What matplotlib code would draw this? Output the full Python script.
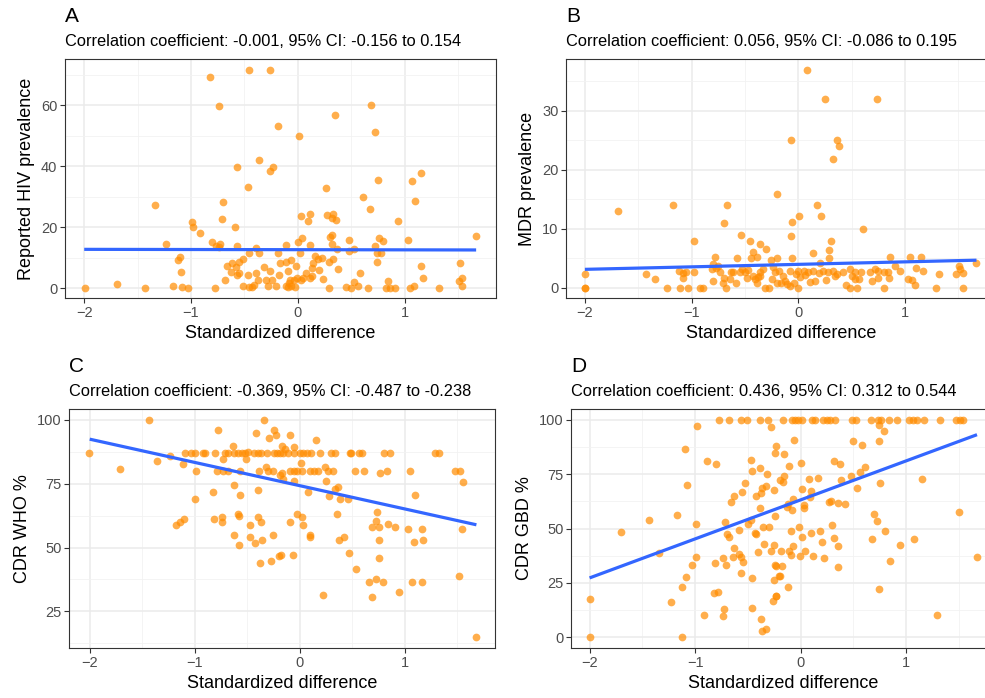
import numpy as np
import matplotlib
matplotlib.use("Agg")
import matplotlib.pyplot as plt
from matplotlib.ticker import MultipleLocator

plt.rcParams['font.family'] = ['Liberation Sans', 'DejaVu Sans']

# ---------------- data ----------------

# panel A: reported HIV prevalence
x_a = [-1.99, -1.69, -1.43, -1.34, -1.23, -1.17, -1.12, -1.10, -1.09, -1.08, -1.03, -0.99, -0.98,
       -0.92, -0.82, -0.80, -0.78, -0.77, -0.74, -0.74, -0.73, -0.71, -0.70, -0.68, -0.66, -0.63,
       -0.62, -0.59, -0.58, -0.57, -0.57, -0.57, -0.55, -0.55, -0.51, -0.51, -0.47, -0.47, -0.46,
       -0.46, -0.46, -0.43, -0.41, -0.39, -0.39, -0.37, -0.36, -0.36, -0.32, -0.30, -0.28, -0.26,
       -0.26, -0.26, -0.24, -0.23, -0.20, -0.19, -0.19, -0.17, -0.18,
       0.01, 0.35, 0.69, 0.72, 0.75, 0.26, 0.61, 0.68, 1.07, 1.15, 1.10, 0.94, 0.03, 0.11, 0.10,
       0.27, 0.33, 0.32, 0.36, 1.67, 0.32, 0.30, 0.32, 0.48, 0.48, 0.53, 0.37, 0.72, 0.76, 0.80,
       0.74, 0.78, 0.74, 1.03, -0.11, 0.00, 0.04, 0.11, 0.02, -0.11, -0.06, -0.02, 0.16, 0.19,
       0.23, 0.14, 0.20, 0.13, 0.29, 0.33, 0.38, 0.24, -0.09, -0.07, -0.08, -0.04, -0.01, 0.03,
       0.05, 0.08, 0.11, 0.13, -0.09, -0.06, -0.03, -0.11, 0.29, 0.45, 0.50, 0.53, 0.56, 0.58,
       0.66, 0.84, 0.83, 0.86, 0.91, 1.05, 1.09, 1.17, 1.15, 1.32, 1.52, 1.51, 1.54, 1.54]
y_a = [0, 1.5, 0, 27.3, 14.4, 0.7, 9.3, 10.4, 5.5, 0.3, 0, 21.7, 20.0,
       18.0, 69.3, 15.3, 0, 13.8, 59.7, 13.7, 14.4, 22.8, 28.4, 2.8, 7.2, 5.5,
       8.3, 20.1, 6.9, 14.0, 39.9, 4.4, 8.6, 5.2, 0.7, 9.6, 33.3, 4.4, 11.6,
       71.7, 0.3, 0.3, 1.0, 13.1, 5.2, 2.8, 11.6, 42.0, 7.0, 2.8, 0.9, 71.7,
       38.5, 5.6, 2.8, 39.8, 0.7, 11.6, 53.1, 8.3, 4.4,
       49.9, 56.7, 60.0, 51.4, 35.5, 33.0, 29.8, 26.0, 35.3, 37.7, 28.5, 22.2, 23.8, 24.4, 22.2,
       23.9, 24.4, 23.2, 22.3, 17.2, 17.4, 16.7, 14.5, 15.7, 12.1, 13.0, 12.9, 13.8, 16.5, 15.4,
       11.6, 11.6, 8.7, 15.8, 14.3, 15.1, 16.4, 14.3, 11.5, 8.5, 9.2, 7.5, 10.7, 9.6,
       9.9, 8.3, 5.9, 6.7, 8.7, 9.7, 6.4, 3.1, 5.6, 2.8, 1.7, 2.8, 3.4, 2.8,
       3.4, 5.2, 3.3, 3.9, 0.3, 0.7, 0.3, 0.9, 0, 0.3, 0, 2.0, 0.7, 5.0,
       0, 2.5, 0, 0, 0, 0, 0.9, 3.5, 7.5, 0, 8.2, 2.3, 3.4, 0.9]
fit_x_a = [-2.0, 1.67]
fit_y_a = [12.8, 12.6]

# panel B: MDR prevalence
x_b = [-2.0, -2.0, -2.0, -1.69, -1.43, -1.34, -1.17, -1.23, -1.11, -1.03, -0.92, -0.89, -0.98,
       -1.12, -1.08, -1.08, -1.05, -0.98, -0.80, -0.78, -0.80, -0.81, -0.77, -0.73, -0.75, -0.70,
       -0.67, -0.68, -0.71, -0.70, -0.64, -0.63, -0.58, -0.61, -0.57, -0.54, -0.50, -0.48, -0.45,
       -0.44, -0.42, -0.39, -0.36, -0.30, -0.26, -0.41, -0.38, -0.36, -0.33, -0.31, -0.27, -0.25,
       -0.22, -0.20, -0.20, -0.20, -0.55, -0.53, -0.47, -0.42, -0.36, -0.39,
       0.08, 0.25, 0.74, -0.07, 0.36, 0.38, 0.33, 0.18, 0.21, 0.01, -0.06, -0.07, 0.61, 0.31,
       0.29, 0.29, 0.14, 0.20, -0.06, 0.86, 0.91, 1.05, 1.15, 1.10, 1.17, 1.32, 1.29, 1.09,
       1.03, 1.07, 0.80, 0.85, 0.95, 0.84, 1.48, 1.51, 1.52, 1.54, 1.54, 1.67,
       -0.08, 0.00, 0.05, 0.09, 0.14, 0.19, 0.23, 0.28, 0.33, 0.36, 0.42, 0.48, 0.53, 0.57,
       0.59, 0.67, 0.72, 0.75, 0.80, -0.16, -0.11, -0.08, 0.00, 0.11, 0.16, 0.26, 0.34, 0.45,
       0.48, 0.55, 0.53, 0.69, 0.75, 0.50, -0.24, -0.18, -0.14, -0.12, -0.04, -0.02, 0.02, 0.06]
y_b = [2.3, 0, 0, 13.1, 2.4, 1.5, 14.1, 0, 0, 0, 0, 0, 8.0,
       2.9, 2.5, 1.7, 2.7, 2.7, 1.2, 5.2, 4.1, 3.2, 3.4, 2.7, 3.7, 11.0,
       14.1, 0, 0.9, 1.7, 1.5, 2.7, 0.9, 2.7, 5.0, 8.9, 2.7, 1.7, 8.0,
       5.1, 6.1, 5.3, 7.4, 6.6, 4.8, 1.5, 1.9, 2.7, 3.2, 0, 0, 1.5,
       2.7, 0.9, 15.9, 5.1, 2.7, 3.2, 3.0, 2.0, 2.0, 0.9,
       36.9, 32.0, 32.0, 25.0, 25.0, 24.0, 21.9, 14.1, 12.1, 12.1, 11.1, 8.8, 9.9, 7.9,
       6.4, 5.1, 6.0, 4.3, 5.1, 5.3, 3.8, 5.3, 5.3, 3.3, 2.9, 2.3, 0, 0.5,
       1.6, 1.3, 0, 1.7, 2.8, 2.7, 2.3, 3.8, 3.2, 2.6, 0, 4.3,
       2.9, 2.9, 2.9, 2.7, 2.9, 2.6, 2.9, 2.7, 2.9, 2.3, 2.7, 3.2, 2.7, 1.5,
       2.7, 2.7, 3.2, 2.9, 2.7, 0.9, 0.6, 0.3, 0, 1.0, 1.2, 1.3, 2.1, 0.5,
       0, 0, 1.5, 1.2, 1.7, 2.0, 3.5, 2.9, 2.0, 1.2, 0.8, 2.3, 1.8, 2.2]
fit_x_b = [-2.0, 1.67]
fit_y_b = [3.15, 4.7]

# panel C: CDR WHO %
x_c = [-2.01, -1.71, -1.44, -1.36, -1.24, -1.11, -1.09, -1.04, -1.00, -0.92, -0.90, -0.99, -1.00,
       -1.18, -1.14, -1.10, -0.83, -0.78, -0.82, -0.74, -0.74,
       -0.81, -0.71, -0.68, -0.63, -0.59, -0.55, -0.52, -0.49, -0.44, -0.40, -0.37, -0.31, -0.25,
       -0.22, -0.19, -0.73, -0.79, -0.73, -0.68, -0.57,
       -0.64, -0.63, -0.57, -0.59, -0.58, -0.63, -0.58, -0.47, -0.43, -0.47, -0.37, -0.40, -0.36,
       -0.38, -0.27, -0.26, -0.20, -0.51, -0.42, -0.34, -0.29, -0.25, -0.23, -0.40,
       -0.39, -0.32, -0.30, -0.26, -0.19,
       0.15, -0.09, -0.17, -0.14, -0.06,
       -0.16, -0.11, -0.06, 0.00, 0.03, 0.07, 0.11, 0.19, 0.30, 0.33, 0.48, 0.49, 0.56, 0.59,
       0.80, 0.86, 1.29, 1.32,
       -0.17, -0.09, -0.06, -0.03, 0.02, 0.10, 0.13, 0.17, 0.27, 0.32, 0.52, 0.61, 0.76, 0.83,
       1.05, 1.48, 1.52,
       0.01, 0.24, -0.16, -0.06, 0.25, 0.33, 0.36, 0.08, 0.28, 0.38, 0.46, 1.55, 1.10, 0.73,
       -0.03, 0.02, 0.03, -0.09, 0.35, 0.10, 0.10, 0.37, 0.42, 0.72, 0.69, 0.75, 0.84, 0.91,
       1.03, 1.16, 1.54, 0.75, 1.09, 1.17, -0.18, -0.07, 0.47, 0.53, 0.75, 0.66, 0.72, 0.79,
       0.69, 0.94, 1.07, 1.16, 1.51, 0.22, 1.68]
y_c = [87.0, 80.8, 100, 83.7, 86.0, 82.8, 87.0, 87.0, 87.0, 87.0, 87.0, 79.8, 68.8,
       58.9, 60.0, 61.1, 71.7, 95.8, 61.0, 61.9, 59.8,
       87.0, 87.0, 87.0, 87.0, 87.0, 87.0, 87.0, 87.5, 87.0, 87.0, 87.0, 87.0, 87.0,
       87.0, 87.0, 84.6, 79.8, 79.8, 79.8, 79.8,
       89.8, 74.6, 70.7, 63.1, 62.2, 54.9, 50.8, 58.9, 51.7, 54.0, 60.0, 61.9, 53.0,
       43.8, 44.7, 54.9, 46.8, 84.6, 95.0, 100, 92.8, 95.8, 94.1, 72.6,
       79.8, 81.7, 79.8, 79.8, 78.5,
       91.9, 94.0, 89.8, 88.7, 89.3,
       87.0, 87.0, 87.0, 87.0, 87.0, 87.0, 87.0, 87.0, 87.0, 87.0, 87.0, 87.0, 87.0, 87.0,
       87.0, 87.0, 87.0, 87.0,
       79.0, 79.8, 79.8, 79.8, 79.8, 79.8, 79.8, 79.8, 79.8, 79.8, 79.8, 79.8, 79.0, 79.8,
       79.8, 79.8, 79.8,
       83.0, 81.7, 76.9, 75.9, 75.9, 72.9, 73.7, 71.6, 70.0, 69.0, 69.0, 75.8, 70.7, 64.0,
       63.1, 61.9, 58.9, 60.0, 63.1, 55.0, 54.0, 53.0, 54.0, 60.4, 58.2, 58.2, 59.1, 58.2,
       57.2, 57.2, 57.2, 53.0, 52.0, 53.0, 46.9, 46.9, 47.8, 41.7, 45.9, 36.6, 37.7, 36.6,
       30.6, 32.6, 36.6, 36.6, 38.7, 31.6, 14.9]
fit_x_c = [-2.0, 1.68]
fit_y_c = [92.4, 58.9]

# panel D: CDR GBD %
x_d = [-2.0, -2.0, -1.70, -1.44, -1.34, -1.23, -1.17, -1.12, -1.12, -1.09, -1.10, -1.08, -1.03,
       -0.99, -0.99, -0.98, -0.92, -0.89, -0.82, -0.78, -0.80, -0.81,
       -0.77, -0.68, -0.57, -0.51, -0.39, -0.31,
       -0.28, -0.74, -0.71, -0.74, -0.73, -0.72, -0.70, -0.68, -0.66, -0.63, -0.56, -0.53, -0.64,
       -0.63, -0.58, -0.57, -0.55, -0.57, -0.58, -0.50, -0.47, -0.46, -0.46, -0.43, -0.42, -0.47,
       -0.46, -0.39, -0.32, -0.42, -0.38, -0.37, -0.33, -0.39, -0.36, -0.30, -0.35, -0.40, -0.28,
       -0.38, -0.37, -0.33, -0.26, -0.23, -0.25, -0.24, -0.25, -0.23, -0.21, -0.24, -0.23, -0.20,
       -0.17, -0.085, -0.054, -0.022, 0.009, 0.104, 0.136, 0.215, 0.246, 0.278, 0.325, 0.483,
       0.524, 0.662, 0.735, 0.760, 0.836, 0.909, 1.029, 1.066, 1.098, 1.167, 1.319, 1.470, 1.508,
       1.539,
       0.74, 0.79, 0.74, -0.06, 0.50, 0.58, -0.16, 0.00, -0.11, 0.32, 0.37, 0.61, 0.56, 0.48,
       0.38, 0.53, 0.75, 1.15, 0.08, 0.16, -0.16, -0.17, 0.01, 0.10, 0.09, 0.27, 0.35, 0.42,
       0.29, -0.07, -0.12, -0.08, 0.03, 0.03, -0.13, 1.50, 0.69, 0.72, 0.80, 0.68, 0.94, 1.07,
       0.85, 0.74, 1.29, 1.67, 0.30, 0.32, 0.35, 0.20, 0.18, 0.10, 0.01, -0.02, -0.09, -0.07,
       -0.11, -0.09, -0.19, 0.04, -0.01, 0.12, 0.22, 0.35, -0.24, -0.18, -0.25, -0.20, -0.12,
       -0.23]
y_d = [0, 17.6, 48.5, 53.9, 38.6, 16.1, 56.4, 0, 23.0, 27.7, 86.5, 70.1, 33.4,
       36.9, 51.9, 97.2, 10.3, 81.0, 20.4, 20.8, 79.8, 34.1,
       100, 100, 100, 100, 100, 100,
       96.6, 36.4, 33.1, 9.6, 13.0, 53.1, 47.5, 46.1, 62.3, 64.8, 66.6, 71.1, 36.9,
       41.0, 38.4, 36.9, 34.8, 29.6, 49.5, 52.2, 53.8, 27.3, 13.5, 47.9, 47.6, 81.6,
       76.6, 77.6, 75.0, 64.8, 66.3, 68.6, 69.7, 59.6, 50.9, 50.9, 43.0, 39.4, 39.8,
       8.6, 2.8, 3.8, 16.7, 19.1, 42.3, 55.9, 67.8, 32.9, 28.0, 84.7, 87.7, 72.4,
       100, 100, 100, 100, 100, 100, 100, 100, 100, 100, 100, 100,
       100, 100, 100, 100, 100, 100, 100, 100, 100, 100, 100, 100, 100,
       100,
       97.4, 94.6, 90.4, 90.8, 90.2, 88.5, 84.2, 80.1, 78.7, 80.9, 79.8, 78.1, 75.8, 74.3,
       72.1, 68.6, 71.1, 72.9, 72.7, 73.2, 74.0, 71.4, 68.3, 67.1, 64.5, 62.0, 61.7, 61.1,
       62.5, 63.6, 61.4, 58.7, 59.4, 61.0, 59.9, 57.4, 56.8, 53.6, 49.0, 45.2, 42.3, 45.3,
       35.2, 22.2, 10.3, 36.9, 51.8, 45.6, 41.8, 43.6, 48.7, 47.9, 46.3, 50.9, 49.0, 41.8,
       39.5, 37.8, 39.8, 39.8, 37.2, 37.5, 36.6, 32.2, 33.1, 32.9, 26.5, 28.3, 23.1,
       18.8]
fit_x_d = [-2.0, 1.67]
fit_y_d = [27.3, 93.1]

labels = ["A", "B", "C", "D"]
subtitles = ["Correlation coefficient: -0.001, 95% CI: -0.156 to 0.154",
             "Correlation coefficient: 0.056, 95% CI: -0.086 to 0.195",
             "Correlation coefficient: -0.369, 95% CI: -0.487 to -0.238",
             "Correlation coefficient: 0.436, 95% CI: 0.312 to 0.544"]
ylabels = ["Reported HIV prevalence", "MDR prevalence", "CDR WHO %", "CDR GBD %"]

# ---------------- figure ----------------
W, H = 985, 698
fig = plt.figure(figsize=(W / 100, H / 100), dpi=100)
fig.patch.set_facecolor("white")

# panel boxes in pixels: left, top, right, bottom
boxes = [(65, 59, 496, 298), (566, 59, 996, 298),
         (69, 409, 495, 648), (571, 409, 996, 648)]
xlims = [(-2.18, 1.856), (-2.177, 1.853), (-2.197, 1.857), (-2.176, 1.85)]
ylims = [(-3.15, 75.2), (-1.7, 38.75), (10.7, 104.2), (-4.9, 104.9)]
ymajor = [20, 10, 25, 25]

panels = [(x_a, y_a, fit_x_a, fit_y_a), (x_b, y_b, fit_x_b, fit_y_b),
          (x_c, y_c, fit_x_c, fit_y_c), (x_d, y_d, fit_x_d, fit_y_d)]

for i, (xs, ys, fx, fy) in enumerate(panels):
    l, t, r, b = boxes[i]
    ax = fig.add_axes([l / W, 1 - b / H, (r - l) / W, (b - t) / H])
    ax.set_axisbelow(True)
    ax.scatter(xs, ys, s=31, color="#FF8C00", alpha=0.7, linewidths=0, zorder=2)
    ax.plot(fx, fy, color="#3366FF", lw=2.3, zorder=3, solid_capstyle="butt")

    ax.set_xlim(*xlims[i])
    ax.set_ylim(*ylims[i])
    ax.xaxis.set_major_locator(MultipleLocator(1))
    ax.xaxis.set_minor_locator(MultipleLocator(0.5))
    ax.yaxis.set_major_locator(MultipleLocator(ymajor[i]))
    ax.yaxis.set_minor_locator(MultipleLocator(ymajor[i] / 2))
    ax.grid(which="major", color="#EBEBEB", lw=1.1)
    ax.grid(which="minor", color="#F2F2F2", lw=0.6)
    ax.tick_params(which="major", length=3.5, width=0.8, color="#333333",
                   labelcolor="#4D4D4D", labelsize=10.5, pad=2)
    ax.tick_params(which="minor", length=0)
    for sp in ax.spines.values():
        sp.set_color("#333333")
        sp.set_linewidth(0.8)

    ax.set_xlabel("Standardized difference", fontsize=13, labelpad=4)
    ax.set_ylabel(ylabels[i], fontsize=13, labelpad=4)

    fig.text(l / W, 1 - (t - 42) / H, labels[i], fontsize=15, ha="left", va="center")
    fig.text(l / W, 1 - (t - 17) / H, subtitles[i], fontsize=11.8, ha="left", va="center")

fig.savefig("out.png", dpi=100)
